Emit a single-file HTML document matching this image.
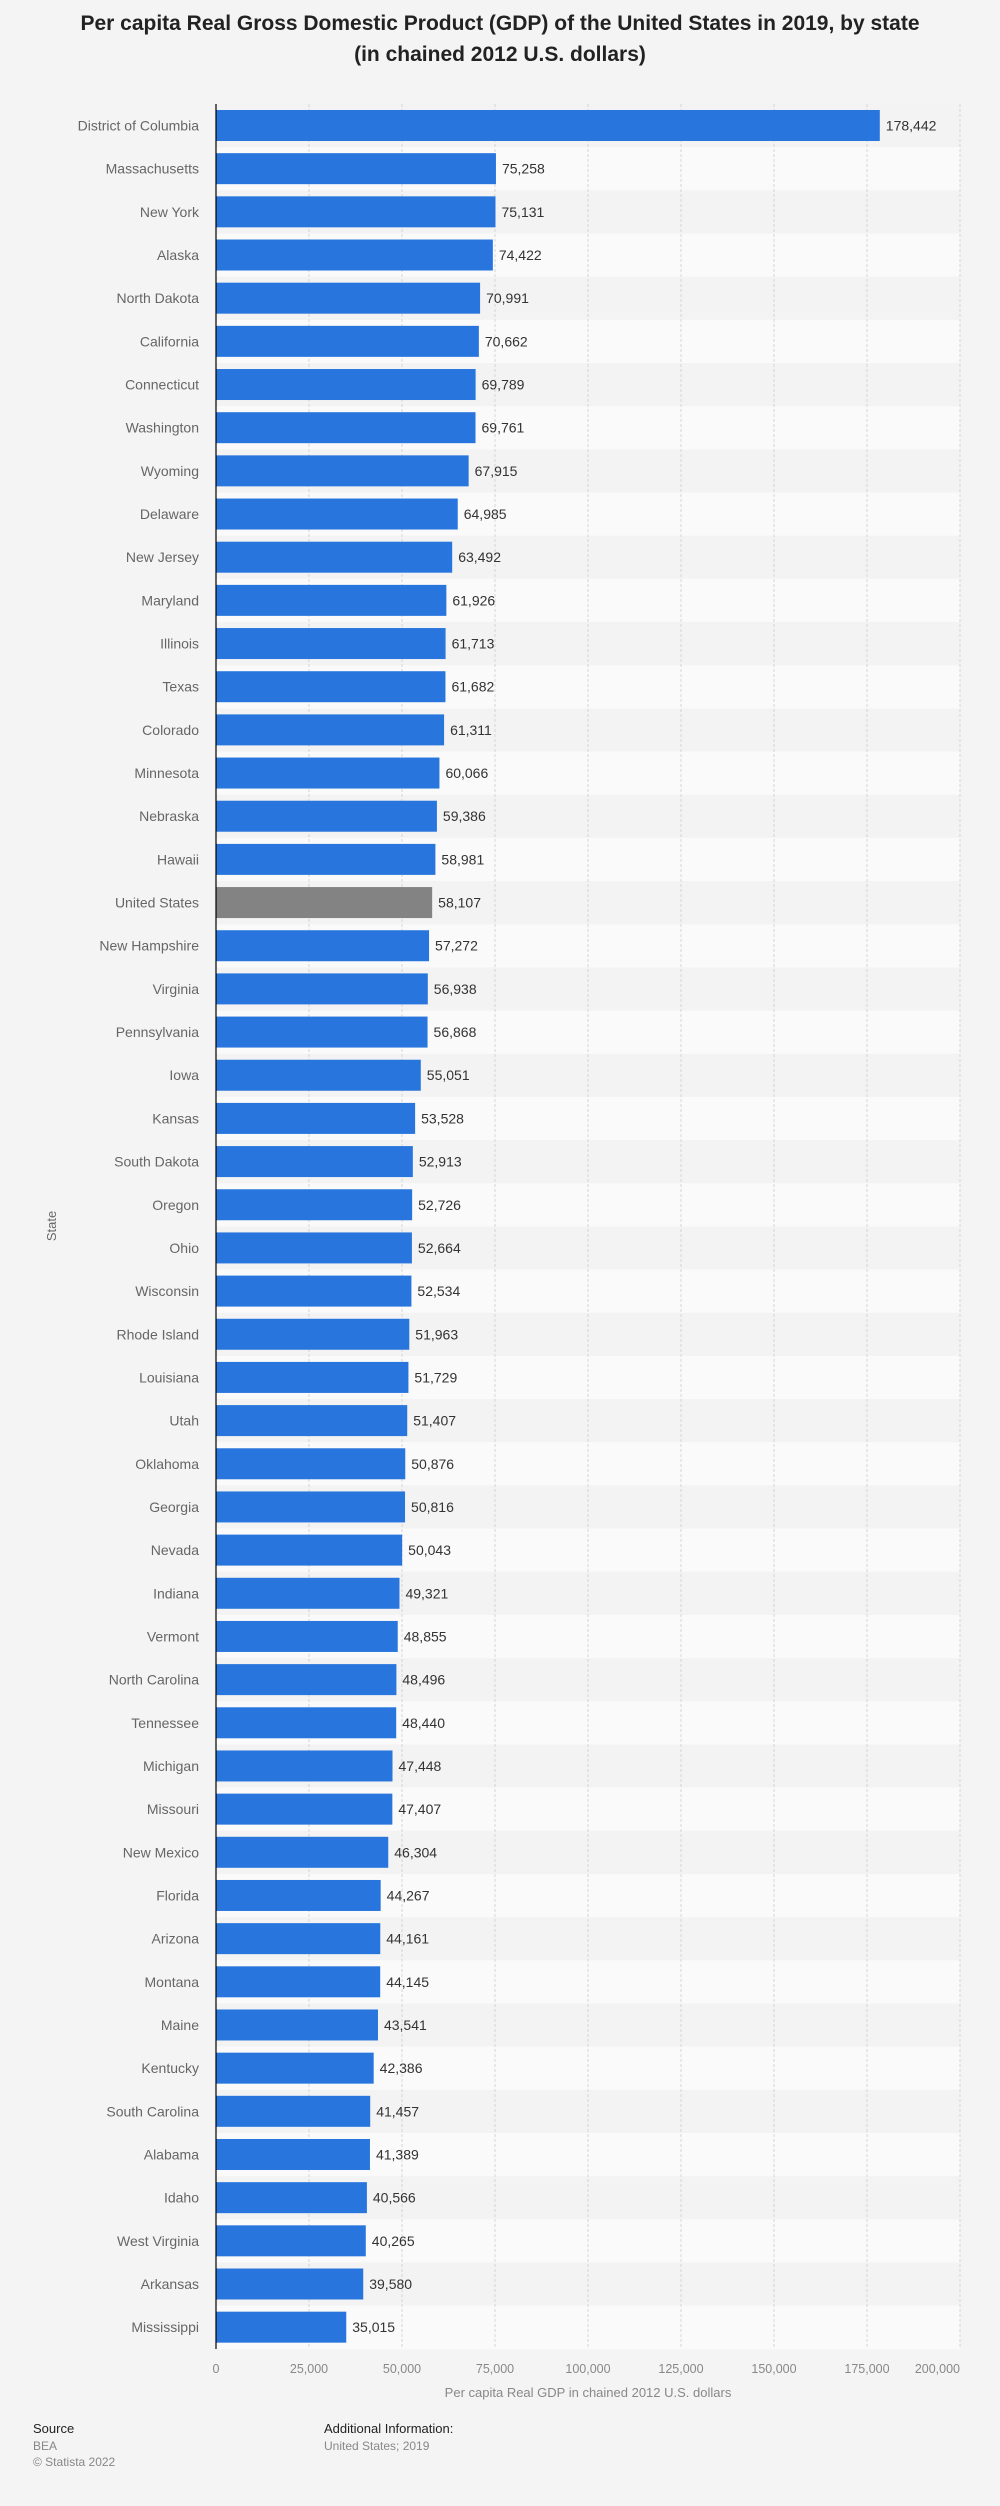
<!DOCTYPE html>
<html><head><meta charset="utf-8"><style>
html,body{margin:0;padding:0;background:#f4f4f4;}
svg{display:block;font-family:"Liberation Sans",Arial,sans-serif;}
</style></head><body>
<svg width="1000" height="2506" viewBox="0 0 1000 2506" xmlns="http://www.w3.org/2000/svg" id="c">
<rect width="1000" height="2506" fill="#f4f4f4"/>
<text x="500" y="30" text-anchor="middle" font-size="21" font-weight="bold" fill="#222">Per capita Real Gross Domestic Product (GDP) of the United States in 2019, by state</text>
<text x="500" y="61" text-anchor="middle" font-size="21" font-weight="bold" fill="#222">(in chained 2012 U.S. dollars)</text>
<g id="rows"></g>
<text transform="translate(56,1226) rotate(-90)" text-anchor="middle" font-size="13" fill="#666">State</text>
<text x="588" y="2397" text-anchor="middle" font-size="13" fill="#888">Per capita Real GDP in chained 2012 U.S. dollars</text>
<text x="33" y="2433" font-size="13" fill="#222">Source</text>
<text x="33" y="2450" font-size="12" fill="#888">BEA</text>
<text x="33" y="2466" font-size="12" fill="#888">© Statista 2022</text>
<text x="324" y="2433" font-size="13" fill="#222">Additional Information:</text>
<text x="324" y="2450" font-size="12" fill="#888">United States; 2019</text>
</svg>
<script>
(function(){
var d=[["District of Columbia",178442],["Massachusetts",75258],["New York",75131],["Alaska",74422],["North Dakota",70991],["California",70662],["Connecticut",69789],["Washington",69761],["Wyoming",67915],["Delaware",64985],["New Jersey",63492],["Maryland",61926],["Illinois",61713],["Texas",61682],["Colorado",61311],["Minnesota",60066],["Nebraska",59386],["Hawaii",58981],["United States",58107],["New Hampshire",57272],["Virginia",56938],["Pennsylvania",56868],["Iowa",55051],["Kansas",53528],["South Dakota",52913],["Oregon",52726],["Ohio",52664],["Wisconsin",52534],["Rhode Island",51963],["Louisiana",51729],["Utah",51407],["Oklahoma",50876],["Georgia",50816],["Nevada",50043],["Indiana",49321],["Vermont",48855],["North Carolina",48496],["Tennessee",48440],["Michigan",47448],["Missouri",47407],["New Mexico",46304],["Florida",44267],["Arizona",44161],["Montana",44145],["Maine",43541],["Kentucky",42386],["South Carolina",41457],["Alabama",41389],["Idaho",40566],["West Virginia",40265],["Arkansas",39580],["Mississippi",35015]];
var x0=216,sc=744/200000,t0=104,p=43.17,s='';
function fmt(n){return String(n).replace(/\B(?=(\d{3})+(?!\d))/g,',');}
d.forEach(function(r,i){var y=t0+i*p;s+='<rect x="216" y="'+y+'" width="744" height="'+(p+0.5)+'" fill="'+(i%2?'#fafafa':'#f3f3f3')+'"/>';});
for(var k=1;k<=8;k++){var gx=x0+k*25000*sc;s+='<line x1="'+gx+'" y1="104" x2="'+gx+'" y2="2349" stroke="#d6d6d6" stroke-dasharray="3,2"/>';}
d.forEach(function(r,i){var y=t0+i*p+6,w=r[1]*sc;var f=r[0]=="United States"?'#838383':'#2876dd';
s+='<rect x="216" y="'+y+'" width="'+w+'" height="31" fill="'+f+'"/>';
s+='<text x="199" y="'+(y+20.5)+'" text-anchor="end" font-size="14" fill="#666">'+r[0]+'</text>';
s+='<text x="'+(216+w+6)+'" y="'+(y+20.5)+'" font-size="14" fill="#333">'+fmt(r[1])+'</text>';});
s+='<line x1="216" y1="104" x2="216" y2="2349" stroke="#000" stroke-width="1.2"/>';
for(var k=0;k<=8;k++){var gx=x0+k*25000*sc;s+='<text x="'+gx+'" y="2373" text-anchor="'+(k==8?'end':'middle')+'" font-size="12.5" fill="#888">'+fmt(k*25000)+'</text>';}
document.getElementById('rows').innerHTML=s;
})();
</script>
</body></html>
